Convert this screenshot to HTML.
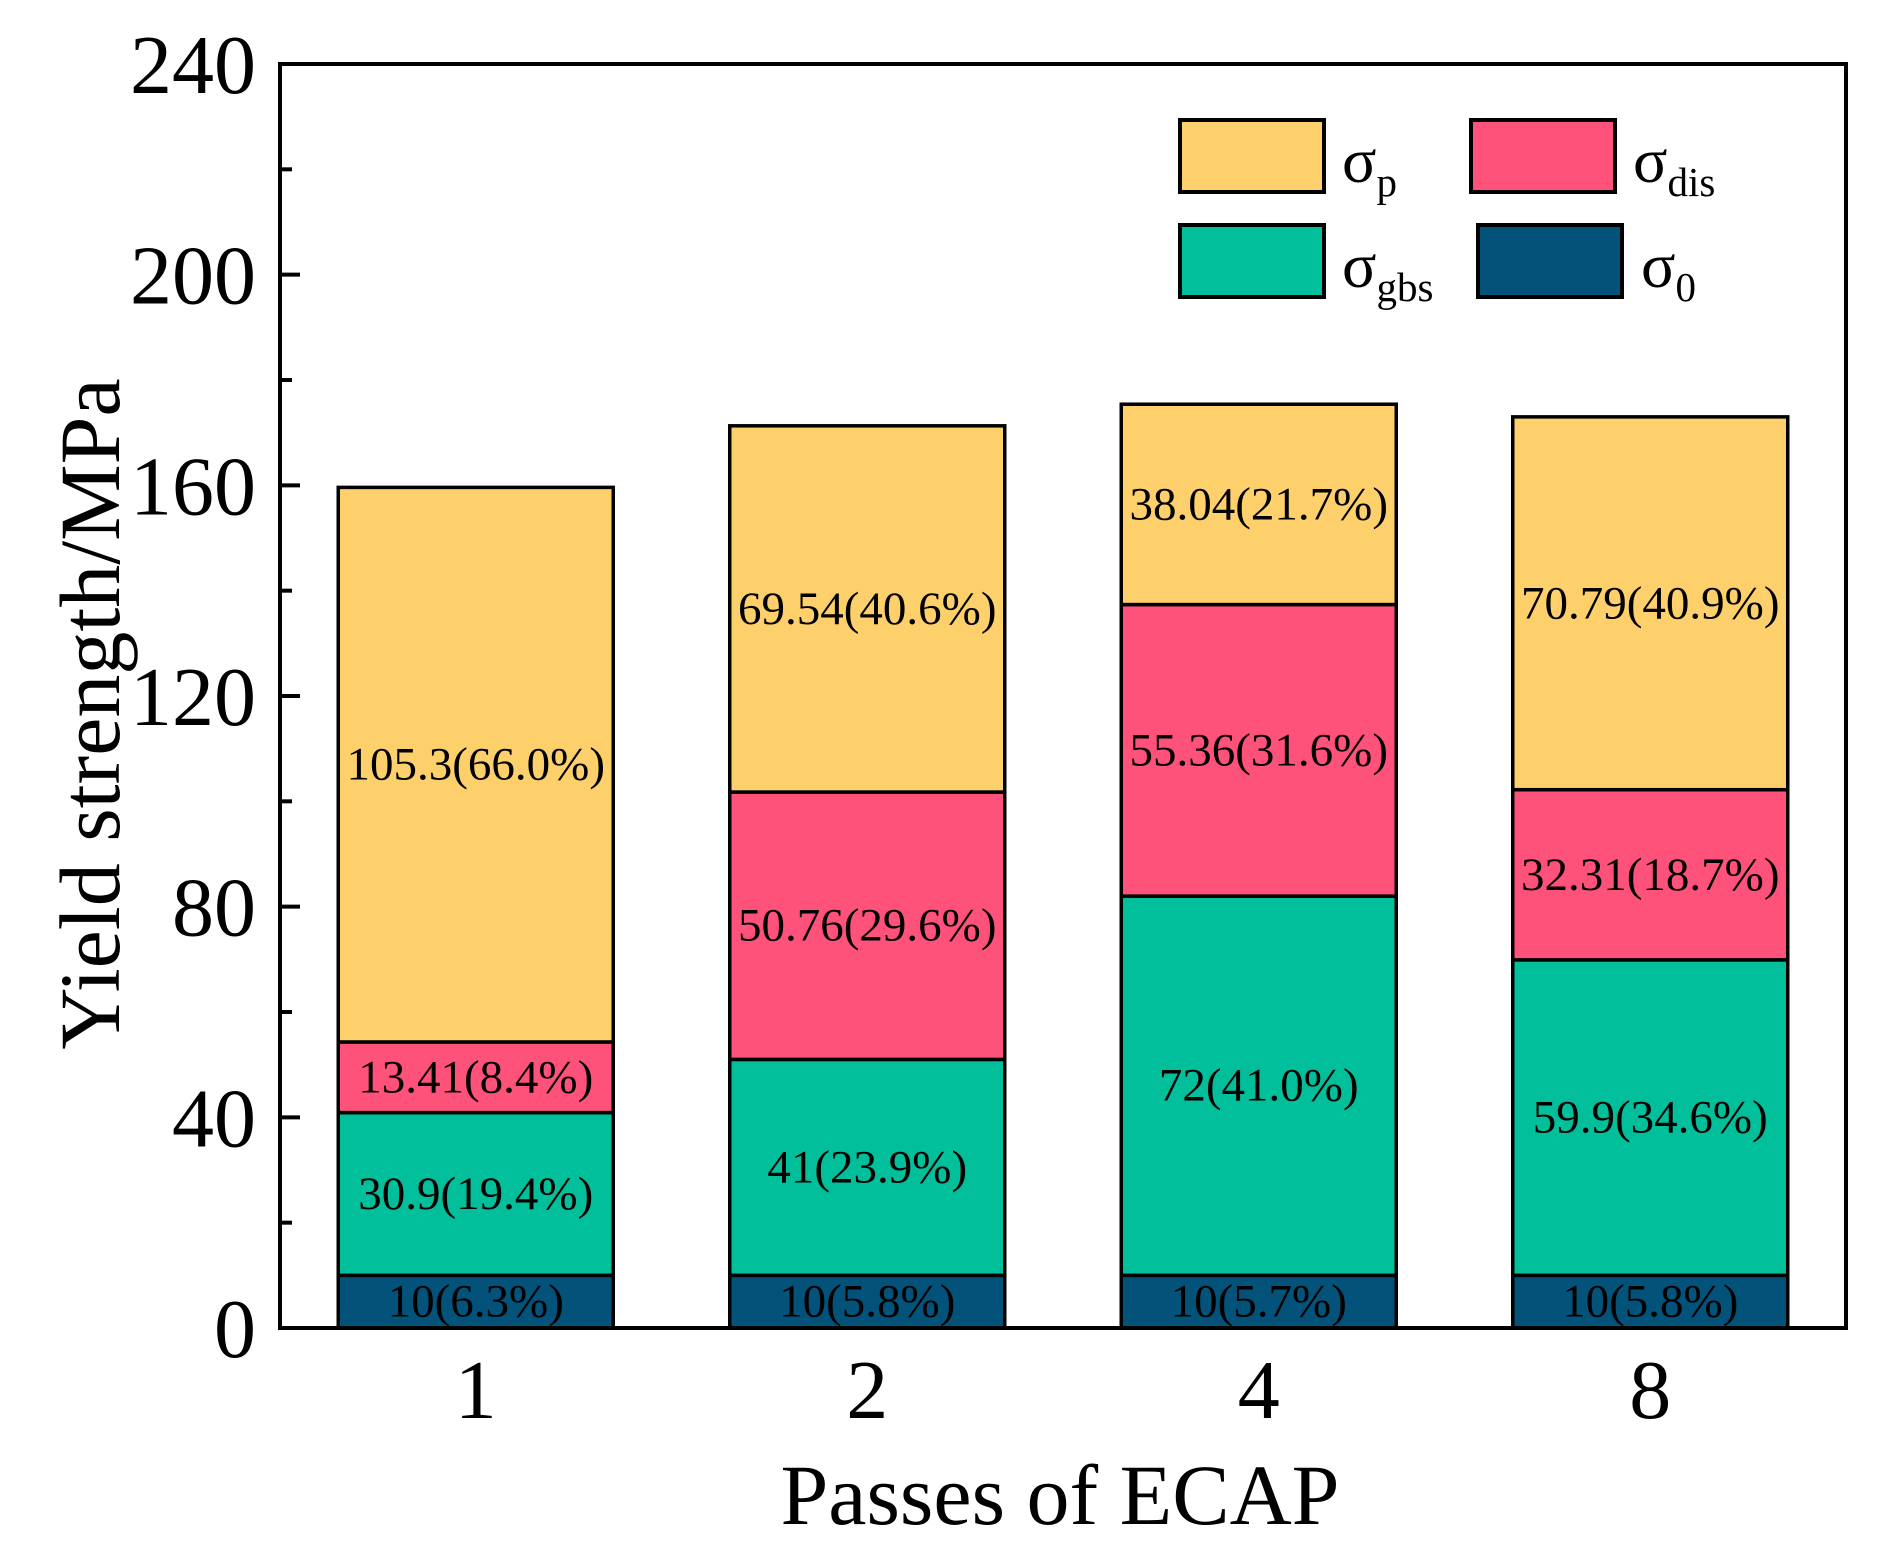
<!DOCTYPE html>
<html><head><meta charset="utf-8"><style>
html,body{margin:0;padding:0;background:#fff;}
svg{display:block;font-family:"Liberation Serif",serif;}
</style></head><body>
<svg id="chart" width="1903" height="1563" viewBox="0 0 1903 1563">
<g id="bars"></g>
<g id="axes"></g>
<g id="legend">
  <rect x="1180" y="120" width="144" height="72" fill="#FDD06B" stroke="#000" stroke-width="4"/>
  <text x="1342" y="182" font-size="64">σ<tspan font-size="41" dy="14">p</tspan></text>
  <rect x="1471" y="120" width="144" height="72" fill="#FF527A" stroke="#000" stroke-width="4"/>
  <text x="1633" y="182" font-size="64">σ<tspan font-size="41" dy="14">dis</tspan></text>
  <rect x="1180" y="225" width="144" height="72" fill="#00BF9A" stroke="#000" stroke-width="4"/>
  <text x="1342" y="287" font-size="64">σ<tspan font-size="41" dy="14">gbs</tspan></text>
  <rect x="1478" y="225" width="144" height="72" fill="#02527A" stroke="#000" stroke-width="4"/>
  <text x="1641" y="287" font-size="64">σ<tspan font-size="41" dy="14">0</tspan></text>
</g>
<text x="1060" y="1524" font-size="86" text-anchor="middle">Passes of ECAP</text>
<text transform="translate(119,714) rotate(-90)" font-size="86" text-anchor="middle">Yield strength/MPa</text>
</svg>
<script>
const categories = ["1","2","4","8"];
const sigma0 = [10, 10, 10, 10];
const sigmaGbs = [30.9, 41, 72, 59.9];
const sigmaDis = [13.41, 50.76, 55.36, 32.31];
const sigmaP = [105.3, 69.54, 38.04, 70.79];
const label0 = ["10(6.3%)","10(5.8%)","10(5.7%)","10(5.8%)"];
const labelGbs = ["30.9(19.4%)","41(23.9%)","72(41.0%)","59.9(34.6%)"];
const labelDis = ["13.41(8.4%)","50.76(29.6%)","55.36(31.6%)","32.31(18.7%)"];
const labelP = ["105.3(66.0%)","69.54(40.6%)","38.04(21.7%)","70.79(40.9%)"];
const yTicks = [0, 40, 80, 120, 160, 200, 240];
const yMinorTicks = [20, 60, 100, 140, 180, 220];

const NS = "http://www.w3.org/2000/svg";
const L = 280, R = 1846, T = 64, B = 1328;
const yMax = 240;
function y(v){ return B - (v / yMax) * (B - T); }
const step = (R - L) / categories.length;
function xc(i){ return L + step * (i + 0.5); }
const barW = 275;

const barsG = document.getElementById('bars');
const series = [
  {vals: sigma0, labels: label0, color: "#02527A", name: "sigma-0"},
  {vals: sigmaGbs, labels: labelGbs, color: "#00BF9A", name: "sigma-gbs"},
  {vals: sigmaDis, labels: labelDis, color: "#FF527A", name: "sigma-dis"},
  {vals: sigmaP, labels: labelP, color: "#FDD06B", name: "sigma-p"}
];
categories.forEach((c, i) => {
  let base = 0;
  series.forEach(s => {
    const v = s.vals[i];
    const r = document.createElementNS(NS, 'rect');
    r.setAttribute('x', xc(i) - barW / 2);
    r.setAttribute('y', y(base + v));
    r.setAttribute('width', barW);
    r.setAttribute('height', y(base) - y(base + v));
    r.setAttribute('fill', s.color);
    r.setAttribute('stroke', '#000');
    r.setAttribute('stroke-width', '3.5');
    
    
    barsG.appendChild(r);
    const t = document.createElementNS(NS, 'text');
    t.setAttribute('x', xc(i));
    t.setAttribute('y', (y(base) + y(base + v)) / 2 + 15);
    t.setAttribute('font-size', '47');
    t.setAttribute('text-anchor', 'middle');
    t.textContent = s.labels[i];
    
    
    barsG.appendChild(t);
    base += v;
  });
});

const ax = document.getElementById('axes');
const frame = document.createElementNS(NS, 'rect');
frame.setAttribute('x', L); frame.setAttribute('y', T);
frame.setAttribute('width', R - L); frame.setAttribute('height', B - T);
frame.setAttribute('fill', 'none'); frame.setAttribute('stroke', '#000'); frame.setAttribute('stroke-width', '4');


ax.appendChild(frame);
yTicks.forEach(v => {
  const l = document.createElementNS(NS, 'line');
  l.setAttribute('x1', L); l.setAttribute('x2', L + 20);
  l.setAttribute('y1', y(v)); l.setAttribute('y2', y(v));
  l.setAttribute('stroke', '#000'); l.setAttribute('stroke-width', '4');
  
  
  ax.appendChild(l);
  const t = document.createElementNS(NS, 'text');
  t.setAttribute('x', 256); t.setAttribute('y', y(v) + 29);
  t.setAttribute('font-size', '84'); t.setAttribute('text-anchor', 'end');
  t.textContent = v;
  
  
  ax.appendChild(t);
});
yMinorTicks.forEach(v => {
  const l = document.createElementNS(NS, 'line');
  l.setAttribute('x1', L); l.setAttribute('x2', L + 12);
  l.setAttribute('y1', y(v)); l.setAttribute('y2', y(v));
  l.setAttribute('stroke', '#000'); l.setAttribute('stroke-width', '4');
  
  
  ax.appendChild(l);
});
categories.forEach((c, i) => {
  const t = document.createElementNS(NS, 'text');
  t.setAttribute('x', xc(i)); t.setAttribute('y', 1418);
  t.setAttribute('font-size', '84'); t.setAttribute('text-anchor', 'middle');
  t.textContent = c;
  
  
  ax.appendChild(t);
});
</script>
</body></html>
